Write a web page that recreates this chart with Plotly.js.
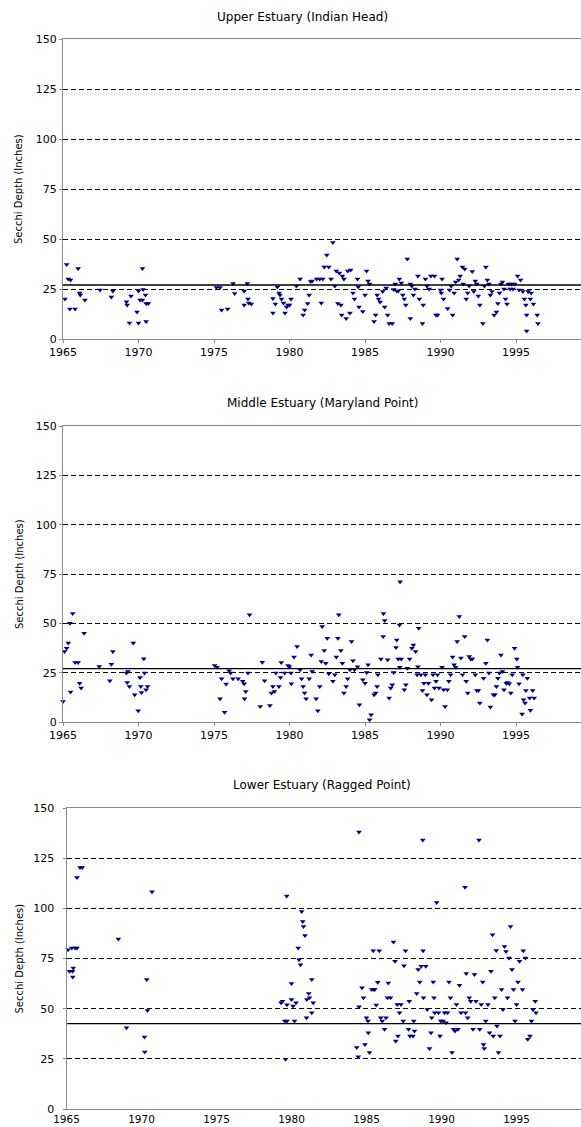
<!DOCTYPE html>
<html>
<head>
<meta charset="utf-8">
<script src="https://cdn.plot.ly/plotly-3.0.1.min.js"></script>
<style>html,body{margin:0;padding:0;background:#fff;}#chart{width:581px;height:1127px;}</style>
</head>
<body>
<div id="chart"></div>
<script>
// ---------- DATA ----------
var panelTitles = ["Upper Estuary (Indian Head)", "Middle Estuary (Maryland Point)", "Lower Estuary (Ragged Point)"];
var yAxisLabel = "Secchi Depth (Inches)";
var meanDepth = [27, 27, 42.5];
var yTickVals = [0, 25, 50, 75, 100, 125, 150];
var xTickVals = [1965, 1970, 1975, 1980, 1985, 1990, 1995, 2000];

var upperYear = [1965.24,1965.13,1965.35,1965.5,1965.46,1965.8,1966.0,1966.1,1966.15,1966.45,1967.45,1968.2,1968.3,1969.2,1969.25,1969.5,1969.9,1969.4,1970.0,1970.0,1970.26,1970.3,1970.1,1970.46,1970.5,1970.65,1970.5,1970.26,
1975.16,1975.4,1975.5,1975.9,1976.26,1976.37,1977.0,1977.2,1977.0,1977.25,1977.3,1977.47,1978.9,1978.9,1979.06,1979.2,1979.3,1979.37,1979.47,1979.6,1979.7,1979.8,1979.9,
1980.0,1980.1,1980.45,1980.7,1980.9,1981.0,1981.2,1981.3,1981.4,1981.5,1981.8,1982.0,1982.1,1982.2,1982.3,1982.47,1982.6,1982.87,1982.75,1983.0,1983.1,1983.2,1983.3,1983.4,1983.45,1983.5,1983.6,1983.75,1983.86,1984.0,1984.05,1984.2,1984.3,1984.5,1984.55,1984.6,1984.85,
1985.0,1985.1,1985.2,1985.3,1985.6,1985.7,1985.8,1985.9,1986.0,1986.17,1986.3,1986.4,1986.5,1986.6,1986.8,1986.9,1987.0,1987.1,1987.2,1987.27,1987.4,1987.5,1987.6,1987.7,1987.8,1988.0,1988.0,1988.1,1988.2,1988.3,1988.5,1988.6,1988.8,1988.85,1989.0,1989.1,1989.25,1989.36,1989.6,1989.7,1989.8,
1990.0,1990.05,1990.1,1990.2,1990.47,1990.6,1990.7,1990.8,1990.9,1991.1,1991.0,1991.2,1991.3,1991.45,1991.5,1991.6,1991.7,1991.8,1991.9,1992.1,1992.2,1992.3,1992.4,1992.5,1992.6,1992.8,1992.9,1993.0,1993.1,1993.2,1993.3,1993.4,1993.55,1993.7,1993.8,1993.9,1994.0,1994.1,1994.2,1994.3,1994.4,1994.5,1994.6,1994.7,1994.8,1994.9,
1995.1,1995.2,1995.3,1995.45,1995.55,1995.65,1995.7,1995.7,1995.8,1995.95,1996.0,1996.15,1996.4,1996.45];
var upperDepth = [37.3,20,30,29.5,15,15,35.3,23,22,19.5,24.5,21,24,18.6,17,21.5,13.5,8,8,24,35.3,24.8,19.5,22,17.8,17.8,8.8,19.5,
25.8,25.8,14.5,15,27.8,22.8,24,27.8,17,20,18,17.5,20.3,13,17.5,26,23,22,20,18,13,16,17,
17,20,26.5,30,12,14.5,17.8,22,28.7,29,30,30,18,30,36,42,36,48.3,30,26.5,34,17.8,33,17,12,31.5,30,10.3,34,13,34.5,23,20,30,26,16,13.7,
22,34,29,27.5,8.7,12,22,20,18.5,23.7,16,25.5,12,7.8,7.8,24.8,27.5,24,24,30,28,22,20,17,40,27.5,10.3,26.5,22,25,31.5,20,7.8,17,30,26.5,25,31.5,31.5,12,12,
24.5,23,30,20,15.3,24.5,26.5,12,23,40,28.5,29.5,31.5,36,27.5,35,20,23,26.5,33.7,23.7,29,27.5,21.5,17,7.8,26.5,36,29.5,27.5,22,23.7,12,13.5,17.8,23,27.5,28.5,25,20,17.5,27.5,25,27.5,25,27.5,
31.5,24.5,29.5,23.7,20,17,12,4,23.7,20,23,17.5,12,7.8];

var middleYear = [1965.0,1965.1,1965.24,1965.35,1965.46,1965.5,1965.64,1965.8,1966.0,1966.1,1966.2,1966.4,1967.4,1968.2,1968.1,1968.3,1969.2,1969.3,1969.25,1969.4,1969.65,1969.75,1969.98,1970.1,1970.15,1970.2,1970.35,1970.4,1970.5,1970.6,
1975.04,1975.2,1975.4,1975.5,1975.7,1975.8,1976.0,1976.1,1976.25,1976.6,1976.9,1977.0,1977.02,1977.1,1977.25,1977.35,1978.06,1978.2,1978.35,1978.7,1978.8,1978.9,1979.0,1979.1,1979.3,1979.4,1979.45,1979.67,1979.9,
1980.0,1980.1,1980.12,1980.3,1980.5,1980.7,1980.8,1980.9,1981.0,1981.1,1981.3,1981.43,1981.5,1981.76,1981.87,1982.0,1982.1,1982.16,1982.3,1982.4,1982.5,1982.6,1982.87,1983.0,1983.1,1983.2,1983.26,1983.4,1983.5,1983.6,1983.75,1983.85,1984.0,1984.1,1984.2,1984.3,1984.5,1984.63,1984.85,
1985.0,1985.1,1985.2,1985.3,1985.4,1985.6,1985.7,1985.8,1985.85,1986.05,1986.2,1986.22,1986.3,1986.5,1986.6,1986.7,1986.8,1986.9,1987.05,1987.1,1987.2,1987.3,1987.32,1987.4,1987.28,1987.6,1987.7,1987.8,1987.95,1988.1,1988.2,1988.35,1988.45,1988.5,1988.55,1988.7,1988.8,1988.9,1989.0,1989.1,1989.2,1989.4,1989.5,1989.6,1989.7,1989.8,1989.9,
1990.1,1990.2,1990.3,1990.45,1990.55,1990.67,1990.8,1990.9,1991.0,1991.1,1991.24,1991.35,1991.45,1991.6,1991.7,1991.8,1991.9,1992.0,1992.1,1992.3,1992.4,1992.5,1992.6,1992.85,1993.0,1993.1,1993.2,1993.3,1993.5,1993.6,1993.7,1993.8,1993.9,1994.0,1994.1,1994.2,1994.35,1994.45,1994.55,1994.65,1994.75,1994.9,
1995.05,1995.1,1995.2,1995.4,1995.45,1995.5,1995.6,1995.65,1995.75,1995.9,1995.95,1996.1,1996.2];
var middleDepth = [10.4,35.7,37.4,40,50,15.2,55,30.2,30.2,19.7,17.2,45,28.1,29.3,20.9,35.7,24.8,25.6,20,18,40,13.8,5.7,22.6,18,15,32,24.8,16.3,18,
28.6,27.8,11.8,21.9,4.9,19.2,26,24.8,21.9,21.9,20.6,19.4,11.8,15.5,24.8,54.3,7.9,30.3,20.9,8.4,14.7,18,15.5,24.8,18,22.6,30.2,24.8,28.6,
28,24.8,19.4,32.9,38.3,26.5,21.9,18,14.7,11.8,21.9,34,25.6,11.8,5.7,18,30.7,48.4,36.2,29.8,42.5,24.4,20.6,24,32.9,42.5,54.3,36.2,29.8,14.7,18,21.9,26.5,40.8,31,26.5,28,8.8,21.4,
19.7,25.1,29,1.2,3.7,13.8,14.7,18,24,31.9,43.3,55,51.4,31.5,12.1,17.2,18.9,25.1,37.8,41.6,31.9,27.8,71.1,31.9,49.2,16.3,18.9,27.3,31.9,37.4,39,35.7,24,28,47.5,24,16,19.7,24,13.8,19.7,11.3,24,17.2,20.6,24,17.2,
27.8,16.3,7.9,16.3,20.6,24,32.9,29,27.8,40.8,53.4,32.4,24,43.3,20.6,14.7,33.2,31.9,31.9,24,16,16,9.6,22.2,29.8,41.6,24.8,7.6,13.8,13.8,18,22.2,24.8,34,25.6,16.3,19.7,20,19.4,14.7,24,37.4,
31.9,27.8,19.4,4,24,11.3,9.6,16,22.2,12.1,5.9,16,12.1];

var lowerYear = [1965.1,1965.2,1965.4,1965.35,1965.45,1965.42,1965.57,1965.7,1965.7,1965.9,1966.05,1968.46,1969.0,1970.2,1970.22,1970.35,1970.4,1970.7,
1979.68,1979.6,1979.3,1979.4,1979.55,1979.7,1979.7,1980.0,1980.0,1980.1,1980.2,1980.3,1980.45,1980.5,1980.6,1980.68,1980.75,1980.8,1980.9,1981.0,1981.02,1981.15,1981.2,1981.35,1981.35,1981.45,
1984.35,1984.45,1984.5,1984.5,1984.7,1984.8,1984.9,1985.0,1985.1,1985.12,1985.2,1985.35,1985.5,1985.45,1985.55,1985.65,1985.75,1985.85,1985.95,1986.05,1986.2,1986.3,1986.4,1986.45,1986.6,1986.8,1986.9,1986.95,1987.05,1987.1,1987.2,1987.3,1987.45,1987.5,1987.6,1987.8,1987.85,1987.9,
1988.1,1988.15,1988.2,1988.35,1988.45,1988.55,1988.65,1988.75,1988.77,1988.8,1988.95,1989.05,1989.2,1989.3,1989.35,1989.45,1989.5,1989.55,1989.68,1989.8,1989.9,1989.95,
1990.1,1990.2,1990.3,1990.4,1990.5,1990.6,1990.7,1990.8,1990.9,1991.0,1991.1,1991.2,1991.3,1991.57,1991.6,1991.65,1991.75,1991.85,1991.95,1992.1,1992.2,1992.3,1992.5,1992.55,1992.65,1992.75,1992.8,1992.85,1992.95,
1993.1,1993.2,1993.3,1993.4,1993.45,1993.55,1993.65,1993.7,1993.8,1993.9,1994.0,1994.1,1994.2,1994.3,1994.4,1994.5,1994.6,1994.7,1994.8,1994.9,1995.0,1995.1,1995.2,1995.4,1995.45,1995.6,1995.75,1995.9,1996.0,1996.1,1996.25,1996.3];
var lowerDepth = [79.4,68.6,68.6,80.2,70.3,65.8,80.2,80.2,115.4,120.4,120.4,84.7,40.5,35.9,28.4,64.5,49.1,108.3,
106.2,24.8,52.9,53.7,43.8,43.8,52,62.5,54.6,51.3,43.8,52.9,80.2,74.4,71.9,98.4,93.4,91,86.5,45.5,54.6,57.5,55.4,64.5,48,52.9,
30.6,26,138,50.9,60.4,55.4,32.2,45.5,43.8,38,28.1,59.5,59.5,78.9,59.5,51.8,63.2,78.9,45.5,43.8,39.7,45.5,55.4,62.8,55.4,83.2,73.6,33.9,52.1,36.4,48,52.1,43.8,71.4,78.9,39.7,53.7,36.4,
36.4,43.8,38.9,57.5,69.5,63.3,71.1,134,78.9,55.4,71.1,49.6,30.1,38,45.5,63.3,55.4,48,102.9,48,36.4,43.8,
43.8,48,43,48,63.3,55.4,28.1,39.7,38.9,52.1,39.7,61.7,48,110.5,48,67.5,45.5,55.4,53.7,39.7,67,53.7,134,39.7,52.1,63.3,32.2,30.1,43.8,
52.1,38,68.6,86.8,36.4,55.4,79,41.3,28.1,36.4,59.5,49.6,81,78.5,55.4,75.2,91,69.5,59.5,43.8,52.1,63.3,73.6,59.5,78.9,75.2,34.7,36.4,43.8,49.6,53.7,48];

// ---------- LAYOUT / STYLE ----------
var W = 581, H = 1127;
var xRange = [1965, 1999.3];
// pixel geometry of each panel: [left, top, bottom]
var geom = [[63, 39, 339], [63, 426, 722], [66.5, 808, 1109]];
var titlePos = [[303, 17], [322, 402.7], [322, 785]];
var series = [[upperYear, upperDepth], [middleYear, middleDepth], [lowerYear, lowerDepth]];

var traces = [];
var layout = {
  width: W, height: H,
  margin: {l: 0, r: 0, t: 0, b: 0},
  paper_bgcolor: '#fff', plot_bgcolor: '#fff',
  showlegend: false,
  font: {family: 'DejaVu Sans, sans-serif', size: 11, color: '#000'},
  annotations: []
};

for (var i = 0; i < 3; i++) {
  var sfx = i === 0 ? '' : String(i + 1);
  var g = geom[i];
  traces.push({
    type: 'scatter', mode: 'markers',
    x: series[i][0], y: series[i][1],
    xaxis: 'x' + sfx, yaxis: 'y' + sfx,
    marker: {symbol: 'triangle-down', size: 5, color: '#000080', line: {width: 0}},
    hoverinfo: 'x+y', cliponaxis: false
  });
  traces.push({
    type: 'scatter', mode: 'lines',
    x: xRange, y: [meanDepth[i], meanDepth[i]],
    xaxis: 'x' + sfx, yaxis: 'y' + sfx,
    line: {color: '#000', width: 1.3}, hoverinfo: 'skip'
  });
  var last = (i === 2);
  layout['xaxis' + sfx] = {
    domain: [g[0] / W, 1], range: xRange, anchor: 'y' + sfx,
    tickmode: 'array', tickvals: xTickVals,
    showgrid: false, zeroline: false,
    showline: true, linecolor: '#8a8a8a', linewidth: 1, mirror: true,
    ticks: last ? '' : 'outside', ticklen: last ? 0 : 3, tickcolor: '#8a8a8a',
    tickfont: {family: 'DejaVu Sans, sans-serif', size: last ? 10.5 : 11, color: '#000'}
  };
  layout['yaxis' + sfx] = {
    domain: [1 - g[2] / H, 1 - g[1] / H], range: [0, 150], anchor: 'x' + sfx,
    tickmode: 'array', tickvals: yTickVals,
    showgrid: true, gridcolor: '#000', gridwidth: 1, griddash: '5px,3px',
    zeroline: false,
    showline: true, linecolor: '#8a8a8a', linewidth: 1,
    ticks: 'outside', ticklen: 3, tickcolor: '#8a8a8a',
    ticklabelstandoff: last ? 6 : 0,
    tickfont: {family: 'DejaVu Sans, sans-serif', size: 11, color: '#000'}
  };
  layout.annotations.push({
    text: panelTitles[i], xref: 'paper', yref: 'paper',
    x: titlePos[i][0] / W, y: 1 - titlePos[i][1] / H,
    xanchor: 'center', yanchor: 'middle', showarrow: false,
    font: {family: 'DejaVu Sans, sans-serif', size: 12, color: '#000'}
  });
  layout.annotations.push({
    text: yAxisLabel, xref: 'paper', yref: 'paper',
    x: 19 / W, y: 1 - (g[1] + g[2]) / 2 / H, textangle: -90,
    xanchor: 'center', yanchor: 'middle', showarrow: false,
    font: {family: 'DejaVu Sans, sans-serif', size: 10, color: '#000'}
  });
}

Plotly.newPlot('chart', traces, layout, {staticPlot: true, displayModeBar: false});
</script>
</body>
</html>
